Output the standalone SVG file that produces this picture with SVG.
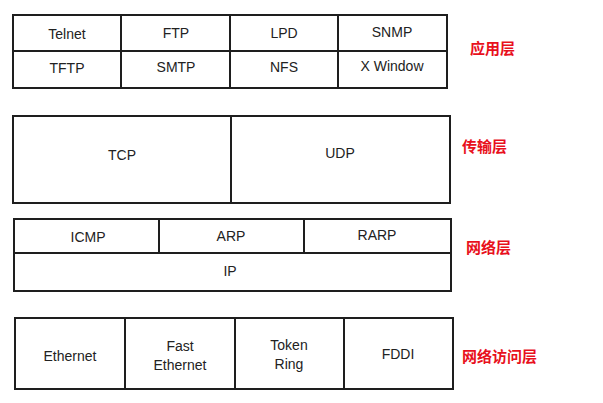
<svg xmlns="http://www.w3.org/2000/svg" width="603" height="403" viewBox="0 0 603 403">
<style>
.box{fill:#fff;stroke:#1e1e1e;stroke-width:2}
.ln{stroke:#1e1e1e;stroke-width:2;fill:none}
.t{font-family:"Liberation Sans",Arial,sans-serif;font-size:14px;fill:#222;text-anchor:middle}
.lab{font-family:"Noto Sans CJK SC",sans-serif;font-size:15px;font-weight:bold;fill:#e8101c}
</style>
<rect width="603" height="403" fill="#fff"/>
<g id="application">
<rect class="box" x="13" y="15" width="434" height="73"/>
<g class="ln"><line x1="13" y1="51" x2="447" y2="51"/><line x1="121" y1="15" x2="121" y2="88"/><line x1="230" y1="15" x2="230" y2="88"/><line x1="338" y1="15" x2="338" y2="88"/></g>
<text class="t" x="67" y="39">Telnet</text>
<text class="t" x="176" y="38">FTP</text>
<text class="t" x="284" y="38">LPD</text>
<text class="t" x="392" y="37">SNMP</text>
<text class="t" x="67" y="73">TFTP</text>
<text class="t" x="176" y="72">SMTP</text>
<text class="t" x="284" y="72">NFS</text>
<text class="t" x="392" y="71">X Window</text>
<text class="lab" x="470" y="54">应用层</text>
</g>
<g id="transport">
<rect class="box" x="13" y="116" width="437" height="87"/>
<line class="ln" x1="231" y1="116" x2="231" y2="203"/>
<text class="t" x="122" y="160">TCP</text>
<text class="t" x="340" y="158">UDP</text>
<text class="lab" x="462" y="152">传输层</text>
</g>
<g id="network">
<rect class="box" x="14" y="219" width="437" height="72"/>
<g class="ln"><line x1="14" y1="253" x2="451" y2="253"/><line x1="159" y1="219" x2="159" y2="253"/><line x1="304" y1="219" x2="304" y2="253"/></g>
<text class="t" x="88" y="242">ICMP</text>
<text class="t" x="231" y="241">ARP</text>
<text class="t" x="377" y="240">RARP</text>
<text class="t" x="230" y="276">IP</text>
<text class="lab" x="466" y="253">网络层</text>
</g>
<g id="access">
<rect class="box" x="15" y="318" width="438" height="71"/>
<g class="ln"><line x1="125" y1="318" x2="125" y2="389"/><line x1="235" y1="318" x2="235" y2="389"/><line x1="344" y1="318" x2="344" y2="389"/></g>
<text class="t" x="70" y="361">Ethernet</text>
<text class="t" x="180" y="351">Fast</text>
<text class="t" x="180" y="370">Ethernet</text>
<text class="t" x="289" y="350">Token</text>
<text class="t" x="289" y="369">Ring</text>
<text class="t" x="398" y="359">FDDI</text>
<text class="lab" x="462" y="362">网络访问层</text>
</g>
</svg>
